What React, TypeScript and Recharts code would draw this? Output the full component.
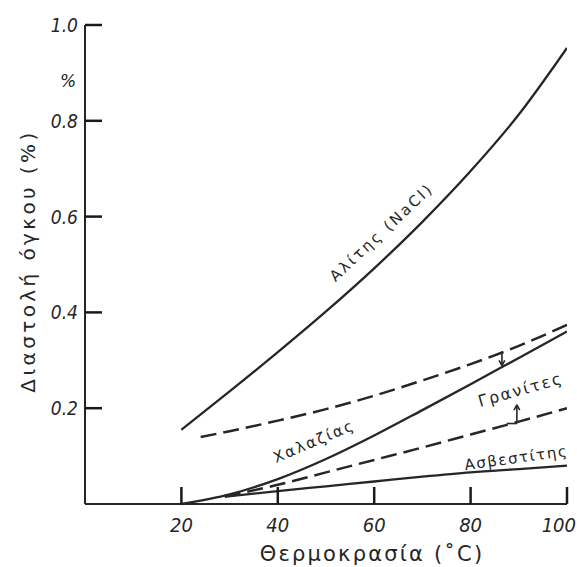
import React from 'react';
import { LineChart, Line, XAxis, YAxis, ReferenceLine } from 'recharts';

// temperature (°C) and volume expansion (%)
const haliteT = [20, 30, 40, 50, 60, 70, 80, 90, 100];
const haliteV = [0.155, 0.235, 0.317, 0.402, 0.492, 0.589, 0.695, 0.813, 0.952];

const quartzT = [20, 30, 40, 50, 60, 70, 80, 90, 100];
const quartzV = [0.0, 0.02, 0.052, 0.094, 0.143, 0.196, 0.25, 0.305, 0.36];

const graniteHiT = [24, 30, 40, 50, 60, 70, 80, 90, 100];
const graniteHiV = [0.14, 0.152, 0.174, 0.198, 0.226, 0.258, 0.292, 0.33, 0.374];

const graniteLoT = [29, 40, 50, 60, 70, 80, 90, 100];
const graniteLoV = [0.016, 0.04, 0.066, 0.092, 0.118, 0.145, 0.172, 0.2];

const calciteT = [29, 40, 50, 60, 70, 80, 90, 100];
const calciteV = [0.015, 0.027, 0.037, 0.047, 0.057, 0.066, 0.073, 0.08];

const xTicks = [20, 40, 60, 80, 100];
const yTicks = [0.2, 0.4, 0.6, 0.8, 1.0];

const ink = '#262626';
const zip = (t: number[], v: number[]) => t.map((x, i) => ({ t: x, v: v[i] }));
const tickFont = { fontFamily: '"DejaVu Sans Condensed", "DejaVu Sans"', fontStyle: 'italic' } as const;

// ticks point inward (up from the x axis, right of the y axis)
const XTick = (props: any) => {
  const { x, y, payload } = props;
  const last = payload.value === 100;
  return (
    <g>
      <path d={`M${x},${y}V${y - 17}`} stroke="#1a1a1a" strokeWidth={2.5} fill="none" />
      <text x={last ? x + 9 : x} y={y + 28} textAnchor={last ? 'end' : 'middle'} fill={ink}
        style={{ ...tickFont, fontSize: 20 }}>
        {payload.value}
      </text>
    </g>
  );
};

const YTick = (props: any) => {
  const { x, y, payload } = props;
  return (
    <g>
      <path d={`M${x},${y}H${x + 17}`} stroke="#1a1a1a" strokeWidth={2.5} fill="none" />
      <text x={x - 7} y={y + 7} textAnchor="end" fill={ink} style={{ ...tickFont, fontSize: 19 }}>
        {Number(payload.value).toFixed(1)}
      </text>
    </g>
  );
};

const lbl = { fontFamily: '"DejaVu Sans", sans-serif', fill: ink } as const;

export default function App() {
  return (
    <div style={{ position: 'absolute', left: 0, top: 0, width: 577, height: 567, background: '#fff' }}>
      <LineChart width={577} height={567} margin={{ top: 25, right: 10, bottom: 0, left: 0 }}>
        <XAxis type="number" dataKey="t" domain={[0, 100]} ticks={xTicks} interval={0}
          height={63} tickSize={0} tickMargin={0} tickLine={false} tick={<XTick />}
          axisLine={{ stroke: ink, strokeWidth: 2 }} allowDataOverflow />
        <YAxis type="number" dataKey="v" domain={[0, 1]} ticks={yTicks} interval={0}
          width={85} tickSize={0} tickMargin={0} tickLine={false} tick={<YTick />}
          axisLine={{ stroke: ink, strokeWidth: 2 }} />
        <Line data={zip(haliteT, haliteV)} dataKey="v" type="monotone" stroke={ink} strokeWidth={2.3}
          dot={false} isAnimationActive={false} />
        <Line data={zip(quartzT, quartzV)} dataKey="v" type="monotone" stroke={ink} strokeWidth={2.3}
          dot={false} isAnimationActive={false} />
        <Line data={zip(graniteHiT, graniteHiV)} dataKey="v" type="monotone" stroke={ink} strokeWidth={2.5}
          strokeDasharray="16 7" dot={false} isAnimationActive={false} />
        <Line data={zip(graniteLoT, graniteLoV)} dataKey="v" type="monotone" stroke={ink} strokeWidth={2.5}
          strokeDasharray="16 7" dot={false} isAnimationActive={false} />
        <Line data={zip(calciteT, calciteV)} dataKey="v" type="monotone" stroke={ink} strokeWidth={2.3}
          dot={false} isAnimationActive={false} />
        {/* range arrows for granites */}
        <ReferenceLine segment={[{ x: 86.5, y: 0.318 }, { x: 86.5, y: 0.289 }]} stroke={ink} strokeWidth={1.6} />
        <ReferenceLine segment={[{ x: 86.5, y: 0.289 }, { x: 85.9, y: 0.3 }]} stroke={ink} strokeWidth={1.6} />
        <ReferenceLine segment={[{ x: 86.5, y: 0.289 }, { x: 87.1, y: 0.3 }]} stroke={ink} strokeWidth={1.6} />
        <ReferenceLine segment={[{ x: 89.6, y: 0.168 }, { x: 89.6, y: 0.207 }]} stroke={ink} strokeWidth={1.6} />
        <ReferenceLine segment={[{ x: 89.6, y: 0.207 }, { x: 89.0, y: 0.196 }]} stroke={ink} strokeWidth={1.6} />
        <ReferenceLine segment={[{ x: 89.6, y: 0.207 }, { x: 90.2, y: 0.196 }]} stroke={ink} strokeWidth={1.6} />
        <ReferenceLine segment={[{ x: 87.5, y: 0.168 }, { x: 89.6, y: 0.168 }]} stroke={ink} strokeWidth={1.6} />
      </LineChart>
      <svg width={577} height={567} style={{ position: 'absolute', left: 0, top: 0, pointerEvents: 'none' }}>
        <text transform="translate(35,261) rotate(-90)" textAnchor="middle" style={{ ...lbl, fontSize: 20, letterSpacing: 3.4 }}>
          Διαστολή όγκου (%)
        </text>
        <text x={372} y={561} textAnchor="middle" style={{ ...lbl, fontSize: 21, letterSpacing: 2.2 }}>
          Θερμοκρασία (˚C)
        </text>
        <text x={68} y={87} textAnchor="middle" style={{ ...lbl, fontSize: 17, fontStyle: 'italic' }}>%</text>
        <text transform="translate(385,236) rotate(-43)" textAnchor="middle" style={{ ...lbl, fontSize: 15, letterSpacing: 2.5 }}>
          Αλίτης (NaCl)
        </text>
        <text transform="translate(316,446) rotate(-23)" textAnchor="middle" style={{ ...lbl, fontSize: 15, letterSpacing: 2 }}>
          Χαλαζίας
        </text>
        <text transform="translate(522,395) rotate(-16)" textAnchor="middle" style={{ ...lbl, fontSize: 16, letterSpacing: 2 }}>
          Γρανίτες
        </text>
        <text transform="translate(517,463) rotate(-8)" textAnchor="middle" style={{ ...lbl, fontSize: 15, letterSpacing: 1.6 }}>
          Ασβεστίτης
        </text>
      </svg>
    </div>
  );
}
